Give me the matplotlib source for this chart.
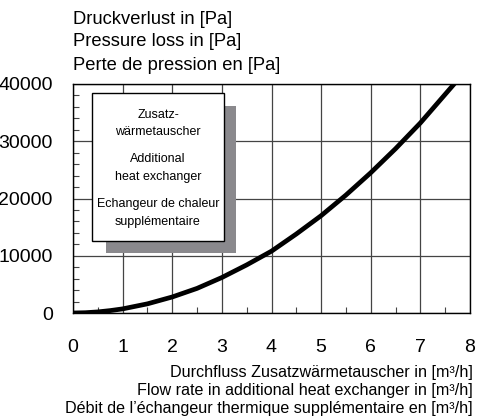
import matplotlib.pyplot as plt
from matplotlib.patches import Rectangle
from matplotlib.ticker import MultipleLocator

plt.rcParams['font.family'] = ['Liberation Sans', 'DejaVu Sans']

# pressure loss curve of the additional heat exchanger
flow = [0, 0.25, 0.5, 0.75, 1, 1.5, 2, 2.5, 3, 3.5, 4, 4.5, 5, 5.5, 6,
        6.5, 7, 7.5, 7.7]
dp = [0, 50, 190, 420, 720, 1600, 2800, 4300, 6200, 8400, 10800, 13800,
      17000, 20600, 24500, 28700, 33200, 38200, 40200]

x_ticks = [0, 1, 2, 3, 4, 5, 6, 7, 8]
y_ticks = [0, 10000, 20000, 30000, 40000]

title_lines = ["Druckverlust in [Pa]", "Pressure loss in [Pa]",
               "Perte de pression en [Pa]"]
xlabel_lines = ["Durchfluss Zusatzwärmetauscher in [m³/h]",
                "Flow rate in additional heat exchanger in [m³/h]",
                "Débit de l\u2019échangeur thermique supplémentaire en [m³/h]"]
box_lines = ["Zusatz-", "wärmetauscher", "Additional", "heat exchanger",
             "Echangeur de chaleur", "supplémentaire"]

fig = plt.figure(figsize=(4.79, 4.18), dpi=100)
ax = fig.add_axes([73 / 479, 1 - 313 / 418, 397 / 479, 229 / 418])

ax.plot(flow, dp, color='black', lw=3.4, solid_capstyle='butt',
        solid_joinstyle='round', zorder=3)
ax.set_xlim(0, 8)
ax.set_ylim(0, 40000)
ax.set_xticks(x_ticks)
ax.set_yticks(y_ticks)
ax.xaxis.set_minor_locator(MultipleLocator(0.5))
ax.yaxis.set_minor_locator(MultipleLocator(2000))
ax.grid(True, which='major', color='#444444', lw=0.9)
ax.tick_params(which='major', length=0, labelsize=14)
ax.tick_params(axis='x', which='major', pad=19)
ax.tick_params(axis='y', which='major', pad=14.5)
ax.tick_params(which='minor', direction='in', length=4, width=0.8,
               color='#444444')
for s in ax.spines.values():
    s.set_linewidth(1.0)
    s.set_color('black')

# legend box with drop shadow
ax.add_patch(Rectangle((0.083, 0.263), 0.328, 0.642, transform=ax.transAxes,
                       facecolor='#8a898d', edgecolor='none', zorder=4))
ax.add_patch(Rectangle((0.047, 0.314), 0.334, 0.645, transform=ax.transAxes,
                       facecolor='white', edgecolor='black', lw=1.0, zorder=5))
box_y = [115, 132, 159, 177, 204, 222]
for t, yp in zip(box_lines, box_y):
    fig.text(158 / 479, 1 - yp / 418, t, ha='center', va='center',
             fontsize=9, zorder=6)

for i, t in enumerate(title_lines):
    fig.text(73 / 479, 1 - (19 + 23 * i) / 418, t, ha='left', va='center',
             fontsize=13.2)

for i, t in enumerate(xlabel_lines):
    fig.text(473 / 479, 1 - (372 + 18.5 * i) / 418, t, ha='right',
             va='center', fontsize=11.6)

fig.savefig('out.png', dpi=100)
